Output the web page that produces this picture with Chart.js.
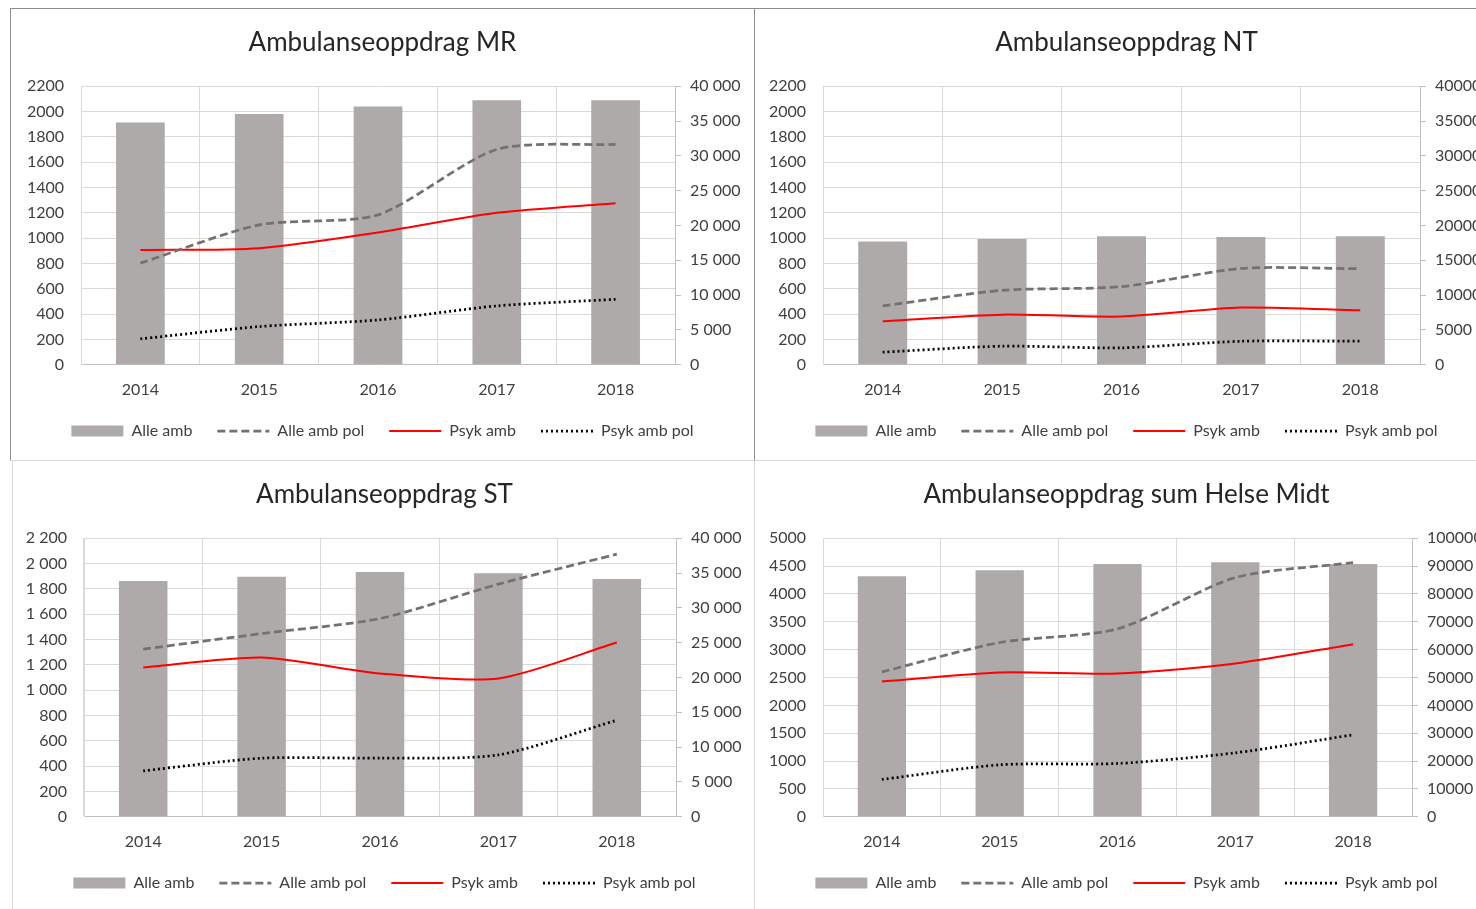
<!DOCTYPE html>
<html>
<head>
<meta charset="utf-8">
<script src="https://cdn.jsdelivr.net/npm/chart.js@4.4.1/dist/chart.umd.min.js"></script>
<style>
  html, body { margin: 0; padding: 0; background: #fff; overflow: hidden; width: 1476px; height: 909px; }
  .wrap { position: absolute; width: 743px; height: 452px; }
  .wrap canvas { position: absolute; left: 0; top: 0; }
  .ln { position: absolute; }
</style>
</head>
<body>
<!-- frame lines -->
<div class="ln" style="left:10px;top:8px;width:1466px;height:1px;background:#8c8c8c"></div>
<div class="ln" style="left:10px;top:8px;width:1px;height:452px;background:#8c8c8c"></div>
<div class="ln" style="left:754px;top:8px;width:1px;height:452px;background:#8c8c8c"></div>
<div class="ln" style="left:10px;top:460px;width:1466px;height:1px;background:#d9d9d9"></div>
<div class="ln" style="left:12px;top:461px;width:1px;height:448px;background:#d9d9d9"></div>
<div class="ln" style="left:754px;top:461px;width:1px;height:448px;background:#d9d9d9"></div>

<div class="wrap" style="left:11px;top:9px"><canvas id="c-mr" width="743" height="452"></canvas></div>
<div class="wrap" style="left:755px;top:9px"><canvas id="c-nt" width="743" height="452"></canvas></div>
<div class="wrap" style="left:13px;top:461px"><canvas id="c-st" width="743" height="452"></canvas></div>
<div class="wrap" style="left:755px;top:461px"><canvas id="c-hm" width="743" height="452"></canvas></div>

<script>
const years = ['2014', '2015', '2016', '2017', '2018'];
const seriesNames = ['Alle amb', 'Alle amb pol', 'Psyk amb', 'Psyk amb pol'];

// Møre og Romsdal
const mrAlleAmb = [34800, 36000, 37100, 38000, 38000];
const mrAlleAmbPol = [803, 1105, 1184, 1701, 1741];
const mrPsykAmb = [906, 921, 1045, 1200, 1276];
const mrPsykAmbPol = [205, 302, 354, 465, 517];

// Nord-Trøndelag
const ntAlleAmb = [17700, 18050, 18450, 18350, 18450];
const ntAlleAmbPol = [465, 588, 617, 761, 759];
const ntPsykAmb = [344, 396, 381, 452, 430];
const ntPsykAmbPol = [100, 147, 134, 186, 186];

// Sør-Trøndelag
const stAlleAmb = [33850, 34450, 35150, 34950, 34150];
const stAlleAmbPol = [1324, 1447, 1566, 1837, 2074];
const stPsykAmb = [1179, 1258, 1132, 1092, 1376];
const stPsykAmbPol = [363, 463, 463, 489, 763];

// sum Helse Midt
const hmAlleAmb = [86350, 88500, 90700, 91400, 90700];
const hmAlleAmbPol = [2600, 3128, 3373, 4294, 4563];
const hmPsykAmb = [2428, 2590, 2572, 2751, 3098];
const hmPsykAmbPol = [670, 933, 957, 1148, 1471];

// axis ranges: [max, step]
const leftAxisSmall = [2200, 200];
const leftAxisSum = [5000, 500];
const rightAxisSmall = [40000, 5000];
const rightAxisSum = [100000, 10000];

const FONT = "Lato, 'Noto Sans', sans-serif";
const TEXT = '#404040';
const GRID = '#d9d9d9';

const plain = v => String(v);
const spaced = v => String(v).replace(/\B(?=(\d{3})+(?!\d))/g, ' ');

function legendLabels(chart) {
  return chart.data.datasets.map((ds, i) => {
    const isBar = ds.type === 'bar';
    return {
      text: ds.label,
      datasetIndex: i,
      fillStyle: isBar ? ds.backgroundColor : 'rgba(0,0,0,0)',
      strokeStyle: isBar ? ds.backgroundColor : ds.borderColor,
      lineWidth: isBar ? 0 : ds.borderWidth,
      lineDash: ds.borderDash || [],
      lineCap: 'butt',
      pointStyle: isBar ? 'rect' : 'line',
      fontColor: TEXT,
      hidden: false
    };
  });
}

function makeChart(id, title, bars, pol, psyk, psykPol, cfg) {
  return new Chart(document.getElementById(id), {
    type: 'bar',
    data: {
      labels: years,
      datasets: [
        { type: 'bar', label: seriesNames[0], data: bars, yAxisID: 'y1',
          backgroundColor: '#aeaaaa', barPercentage: 0.41, categoryPercentage: 1, order: 1 },
        { type: 'line', label: seriesNames[1], data: pol, yAxisID: 'y',
          borderColor: '#767171', borderWidth: 2.75, borderDash: [8, 4], pointRadius: 0,
          tension: 0.25, fill: false, order: 0 },
        { type: 'line', label: seriesNames[2], data: psyk, yAxisID: 'y',
          borderColor: '#ff0000', borderWidth: 2, pointRadius: 0,
          tension: 0.25, fill: false, order: 0 },
        { type: 'line', label: seriesNames[3], data: psykPol, yAxisID: 'y',
          borderColor: '#000000', borderWidth: 2.75, borderDash: [2, 3], pointRadius: 0,
          tension: 0.25, fill: false, order: 0 }
      ]
    },
    options: {
      responsive: false,
      animation: false,
      layout: { padding: { left: 0, right: 0, top: 0, bottom: 12 } },
      plugins: {
        title: {
          display: true, text: title, color: '#262626',
          font: { family: FONT, size: 26, weight: 'normal' },
          padding: { top: 18, bottom: 28 }
        },
        legend: {
          position: 'bottom',
          labels: {
            usePointStyle: true, pointStyleWidth: 52, boxHeight: 11, padding: 25,
            color: TEXT, font: { family: FONT, size: 16 },
            generateLabels: legendLabels,
            sort: (a, b) => a.datasetIndex - b.datasetIndex
          }
        },
        tooltip: { enabled: false }
      },
      scales: {
        x: {
          grid: { color: GRID, drawTicks: false, offset: true },
          border: { color: '#bfbfbf' },
          ticks: { color: TEXT, padding: 15, font: { family: FONT, size: 16 } },
          afterFit: s => { s.height -= 16; }
        },
        y: {
          position: 'left', min: 0, max: cfg.left[0],
          grid: { color: GRID, drawTicks: false },
          border: { color: GRID },
          ticks: { stepSize: cfg.left[1], color: TEXT, padding: 17,
                   font: { family: FONT, size: 16 }, callback: cfg.leftFmt },
          afterFit: s => { s.width = cfg.leftWidth; }
        },
        y1: {
          position: 'right', min: 0, max: cfg.right[0],
          grid: { drawOnChartArea: false, color: '#bfbfbf', tickLength: 6 },
          border: { color: '#bfbfbf' },
          ticks: { stepSize: cfg.right[1], color: TEXT, padding: 9,
                   font: { family: FONT, size: 16 }, callback: cfg.rightFmt },
          afterFit: s => { s.width = cfg.rightWidth; }
        }
      }
    }
  });
}

makeChart('c-mr', 'Ambulanseoppdrag MR', mrAlleAmb, mrAlleAmbPol, mrPsykAmb, mrPsykAmbPol,
  { left: leftAxisSmall, right: rightAxisSmall, leftFmt: plain, rightFmt: spaced, leftWidth: 70, rightWidth: 79 });
makeChart('c-nt', 'Ambulanseoppdrag NT', ntAlleAmb, ntAlleAmbPol, ntPsykAmb, ntPsykAmbPol,
  { left: leftAxisSmall, right: rightAxisSmall, leftFmt: plain, rightFmt: plain, leftWidth: 68, rightWidth: 78 });
makeChart('c-st', 'Ambulanseoppdrag ST', stAlleAmb, stAlleAmbPol, stPsykAmb, stPsykAmbPol,
  { left: leftAxisSmall, right: rightAxisSmall, leftFmt: spaced, rightFmt: spaced, leftWidth: 71, rightWidth: 80 });
makeChart('c-hm', 'Ambulanseoppdrag sum Helse Midt', hmAlleAmb, hmAlleAmbPol, hmPsykAmb, hmPsykAmbPol,
  { left: leftAxisSum, right: rightAxisSum, leftFmt: plain, rightFmt: plain, leftWidth: 68, rightWidth: 86 });
</script>
</body>
</html>
